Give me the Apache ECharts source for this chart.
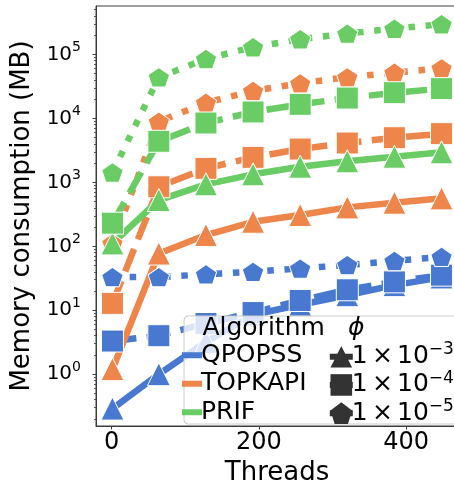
<!DOCTYPE html>
<html>
<head>
<meta charset="utf-8">
<script src="https://cdn.jsdelivr.net/npm/echarts@6/dist/echarts.min.js"></script>
<style>
  html, body { margin: 0; padding: 0; background: #ffffff; }
  #chart { width: 454px; height: 487px; }
</style>
</head>
<body>
<div id="chart"></div>
<script>
// Thread counts on the x axis
const threads = [1, 64, 128, 192, 256, 320, 384, 448];

// Algorithms and the phi exponents (1 × 10^e)
const algorithms = ['QPOPSS', 'TOPKAPI', 'PRIF'];
const phiExponents = [-3, -4, -5];

// Memory consumption in MB, one array per (algorithm, phi)
const qpopssPhi3 = [0.29, 1.0, 3.2, 8.5, 12.2, 17.2, 24.7, 32.6];
const qpopssPhi4 = [3.3, 4.0, 6.2, 9.2, 14.2, 20.9, 27.8, 35.4];
const qpopssPhi5 = [33, 33, 36.5, 40, 45, 51, 59, 68.5];

const topkapiPhi3 = [1.2, 77, 150, 242, 308, 406, 480, 561];
const topkapiPhi4 = [12.8, 853, 1656, 2460, 3320, 4120, 4990, 5770];
const topkapiPhi5 = [112, 8880, 17600, 26900, 35400, 44000, 51900, 60800];

const prifPhi3 = [111, 528, 931, 1335, 1755, 2132, 2515, 2945];
const prifPhi4 = [230, 4385, 8470, 12600, 16600, 20800, 25200, 29200];
const prifPhi5 = [1430, 44000, 85100, 130000, 173000, 212000, 253000, 297000];

// Axis ticks
const xTicks = [0, 200, 400];
const yMajorTicks = [1, 10, 100, 1000, 10000, 100000];

// ---------------------------------------------------------------------------
const FONT = '"DejaVu Sans", "Liberation Sans", sans-serif';
const colors = { QPOPSS: '#4878d0', TOPKAPI: '#ee854a', PRIF: '#6acc64' };
const valuesByAlgo = {
  QPOPSS: [qpopssPhi3, qpopssPhi4, qpopssPhi5],
  TOPKAPI: [topkapiPhi3, topkapiPhi4, topkapiPhi5],
  PRIF: [prifPhi3, prifPhi4, prifPhi5]
};

const LW = 6.5;
const PENTAGON = 'path://M0,-100 L95.1,-30.9 L58.8,80.9 L-58.8,80.9 L-95.1,-30.9 Z';
// one marker / dash style per phi value
const phiStyles = [
  { symbol: 'triangle', size: 23, dash: 'solid', cap: 'square' },
  { symbol: 'rect', size: 22, dash: [3.7 * LW, 1.6 * LW], cap: 'butt' },
  { symbol: PENTAGON, size: [21.5, 20.5], dash: [1 * LW, 1.65 * LW], cap: 'butt' }
];

const supDigits = { '-': '⁻', '0': '⁰', '1': '¹', '2': '²', '3': '³', '4': '⁴', '5': '⁵', '6': '⁶', '7': '⁷', '8': '⁸', '9': '⁹' };
const phiNames = phiExponents.map(e => '1 × 10' + String(e).split('').map(c => supDigits[c]).join(''));

// minor ticks of the log axis: 2..9 × 10^k
const yMin = 0.155, yMax = 572000;
const yMinorTicks = [];
for (let k = -1; k <= 5; k++) {
  for (let m = 2; m <= 9; m++) {
    const v = m * Math.pow(10, k);
    if (v >= yMin && v <= yMax) yMinorTicks.push(v);
  }
}

const series = [];
algorithms.forEach(algo => {
  valuesByAlgo[algo].forEach((vals, p) => {
    const st = phiStyles[p];
    series.push({
      type: 'line',
      name: algo,
      data: threads.map((t, i) => [t, vals[i]]),
      color: colors[algo],
      symbol: st.symbol,
      symbolSize: st.size,
      symbolKeepAspect: true,
      showSymbol: true,
      showAllSymbol: true,
      lineStyle: { width: LW, type: st.dash, cap: st.cap, join: 'round' },
      itemStyle: { borderColor: '#ffffff', borderWidth: 1 },
      emphasis: { disabled: true },
      animation: false,
      z: 2
    });
  });
});
// entries for the phi legend (style only)
phiNames.forEach((name, p) => {
  const st = phiStyles[p];
  series.push({
    type: 'line',
    name: name,
    data: [],
    color: '#333333',
    symbol: st.symbol,
    symbolSize: st.size,
    symbolKeepAspect: true,
    lineStyle: { width: LW, type: st.dash, cap: 'butt' },
    itemStyle: { borderWidth: 0 },
    animation: false
  });
});

const chart = echarts.init(document.getElementById('chart'), null, { renderer: 'canvas' });
chart.setOption({
  animation: false,
  backgroundColor: '#ffffff',
  grid: {
    left: 96, top: 6, width: 362, height: 420,
    show: true, borderColor: '#3c3c3c', borderWidth: 1,
    backgroundColor: 'transparent',
    containLabel: false,
    outerBoundsMode: 'none'
  },
  xAxis: {
    type: 'value',
    min: -21.35, max: 470.35,
    name: 'Threads',
    nameLocation: 'middle',
    nameGap: 31,
    nameTextStyle: { fontFamily: FONT, fontSize: 26, color: '#000000' },
    axisLine: { show: true, onZero: false, lineStyle: { color: '#3c3c3c', width: 1 } },
    axisTick: { show: true, length: 3.5, customValues: xTicks, lineStyle: { color: '#3c3c3c', width: 1 } },
    axisLabel: { show: true, customValues: xTicks, margin: 5, fontFamily: FONT, fontSize: 24, color: '#000000' },
    splitLine: { show: false }
  },
  yAxis: [
    {
      type: 'log',
      logBase: 10,
      min: yMin, max: yMax,
      name: 'Memory consumption (MB)',
      nameLocation: 'middle',
      nameGap: 60,
      nameTextStyle: { fontFamily: FONT, fontSize: 26, color: '#000000' },
      axisLine: { show: true, onZero: false, lineStyle: { color: '#3c3c3c', width: 1 } },
      axisTick: { show: true, length: 3.5, customValues: yMajorTicks, lineStyle: { color: '#3c3c3c', width: 1 } },
      axisLabel: {
        show: true,
        customValues: yMajorTicks,
        margin: 15,
        fontFamily: FONT, fontSize: 20, lineHeight: 25, color: '#000000',
        formatter: v => {
          const e = Math.round(Math.log10(v));
          return '10{sup|' + (e < 0 ? '−' + (-e) : e) + '}';
        },
        rich: {
          sup: { fontFamily: FONT, fontSize: 14, lineHeight: 10, padding: [0, 0, 13.3, 0], color: '#000000' }
        }
      },
      splitLine: { show: false }
    },
    {
      type: 'log',
      logBase: 10,
      min: yMin, max: yMax,
      position: 'left',
      axisLine: { show: false, onZero: false },
      axisTick: { show: true, length: 2, customValues: yMinorTicks, lineStyle: { color: '#3c3c3c', width: 0.8 } },
      axisLabel: { show: false },
      splitLine: { show: false }
    }
  ],
  legend: [
    {
      orient: 'vertical',
      left: 182, top: 342, padding: 0,
      itemWidth: 20, itemHeight: 6, itemGap: 2,
      selectedMode: false,
      data: algorithms.map(n => ({ name: n, icon: 'rect' })),
      itemStyle: { borderWidth: 0 },
      textStyle: { fontFamily: FONT, fontSize: 25, color: '#000000', lineHeight: 26.5, padding: [0, 0, 0, -6] },
      z: 4
    },
    {
      orient: 'vertical',
      left: 326.8, top: 341.5, padding: 0,
      itemWidth: 23, itemHeight: 27, itemGap: -2.3,
      selectedMode: false,
      data: phiNames,
      itemStyle: { borderWidth: 0 },
      lineStyle: { width: 6 },
      formatter: name => {
        const e = phiExponents[phiNames.indexOf(name)];
        return '1\u2006×\u200610{sup|−' + (-e) + '}';
      },
      textStyle: {
        fontFamily: FONT, fontSize: 25, color: '#000000', lineHeight: 25, padding: [0, 0, 0, -6],
        rich: { sup: { fontFamily: FONT, fontSize: 17, lineHeight: 12, padding: [0, 0, 13.5, 0], color: '#000000' } }
      },
      z: 4
    }
  ],
  graphic: [
    {
      type: 'rect', z: 3,
      shape: { x: 184, y: 316, width: 290, height: 108, r: 4 },
      style: { fill: 'rgba(255,255,255,0.8)', stroke: '#cccccc', lineWidth: 1 }
    },
    {
      type: 'text', z: 5, x: 202.4, y: 328,
      style: { text: 'Algorithm', fontFamily: FONT, fontSize: 25, fill: '#000000', verticalAlign: 'middle', align: 'left' }
    },
    {
      type: 'text', z: 5, x: 348, y: 328,
      style: { text: 'ϕ', fontFamily: FONT, fontSize: 25, fontStyle: 'italic', fill: '#000000', verticalAlign: 'middle', align: 'left' }
    }
  ],
  series: series
});
</script>
</body>
</html>
